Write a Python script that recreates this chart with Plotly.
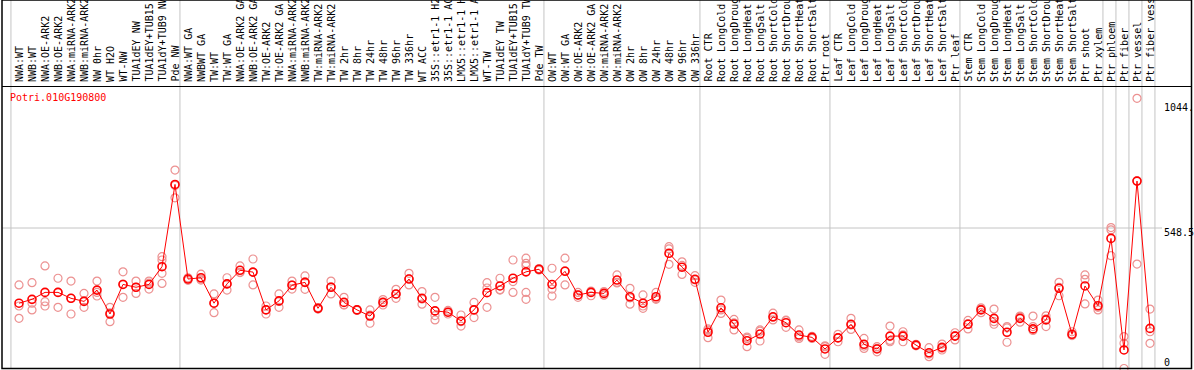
import plotly.graph_objects as go

# ---------------- data ----------------
title_text = "Potri.010G190800"

categories = [
    "NWA:WT", "NWB:WT", "NWA:OE-ARK2", "NWB:OE-ARK2", "NWA:miRNA-ARK2", "NWB:miRNA-ARK2",
    "NW 0hr", "WT H2O", "WT-NW", "TUA1dEY NW", "TUA1dEY+TUB15 NW", "TUA1dY+TUB9 NW", "Pde NW",
    "NWA:WT GA", "NWBWT GA", "TW:WT", "TW:WT GA", "NWA:OE-ARK2 GA", "NWB:OE-ARK2 GA",
    "TW:OE-ARK2", "TW:OE-ARK2 GA", "NWA:miRNA-ARK2 GA", "NWB:miRNA-ARK2 GA", "TW:miRNA-ARK2",
    "TW:miRNA-ARK2 GA", "TW 2hr", "TW 8hr", "TW 24hr", "TW 48hr", "TW 96hr", "TW 336hr", "WT ACC",
    "35S::etr1-1 H2O", "35S::etr1-1 ACC", "LMX5::etr1-1 H2O", "LMX5::etr1-1 ACC", "WT-TW",
    "TUA1dEY TW", "TUA1dEY+TUB15 TW", "TUA1dY+TUB9 TW", "Pde TW",
    "OW:WT", "OW:WT GA", "OW:OE-ARK2", "OW:OE-ARK2 GA", "OW:miRNA-ARK2", "OW:miRNA-ARK2 GA",
    "OW 2hr", "OW 8hr", "OW 24hr", "OW 48hr", "OW 96hr", "OW 336hr",
    "Root CTR", "Root LongCold", "Root LongDrought", "Root LongHeat", "Root LongSalt",
    "Root ShortCold", "Root ShortDrought", "Root ShortHeat", "Root ShortSalt", "Ptr root",
    "Leaf CTR", "Leaf LongCold", "Leaf LongDrought", "Leaf LongHeat", "Leaf LongSalt",
    "Leaf ShortCold", "Leaf ShortDrought", "Leaf ShortHeat", "Leaf ShortSalt", "Ptr leaf",
    "Stem CTR", "Stem LongCold", "Stem LongDrought", "Stem LongHeat", "Stem LongSalt",
    "Stem ShortCold", "Stem ShortDrought", "Stem ShortHeat", "Stem ShortSalt", "Ptr shoot", "Ptr xylem",
    "Ptr phloem", "Ptr fiber", "Ptr vessel", "Ptr fiber vessel",
]

group_sizes = [13, 28, 12, 10, 10, 11, 1, 1, 1, 1]

means = [
    256, 271, 298, 298, 275, 263, 307, 214, 329, 318, 329, 398, 718,
    350, 355, 256, 331, 384, 377, 230, 265, 326, 337, 236, 318, 259, 230, 206, 259, 292,
    350, 275, 226, 221, 187, 230, 297, 323, 353, 378, 388,
    329, 380, 288, 298, 294, 346, 281, 256, 281, 450, 396, 349,
    143, 238, 175, 110, 136, 203, 180, 132, 123, 78,
    121, 174, 96, 78, 128, 128, 93, 63, 84, 128,
    174, 230, 197, 143, 197, 156, 191, 314, 135, 323, 246,
    508, 74, 731, 158,
]

replicates = [
    [327, 245, 197], [336, 256, 230], [401, 262, 245], [353, 298, 240], [342, 275, 214],
    [294, 265, 240], [342, 298, 284], [240, 218, 184], [378, 330, 279], [342, 318, 294],
    [342, 334, 311], [437, 424, 372, 333], [774, 714, 666],
    [355, 350, 345], [369, 350, 346], [292, 256, 219], [355, 331, 307], [401, 376, 375],
    [428, 376, 327], [245, 231, 214], [292, 263, 240], [342, 326, 311], [362, 339, 310],
    [239, 236, 233], [342, 320, 292], [279, 250, 249], [231, 230, 228], [230, 210, 178],
    [270, 259, 249], [310, 291, 275], [372, 351, 327], [301, 272, 252], [279, 208, 191],
    [228, 221, 214], [210, 184, 167], [259, 231, 200], [336, 315, 240], [353, 309, 307],
    [424, 340, 298], [431, 411, 402, 298, 271], [391, 388, 385],
    [392, 311, 284], [431, 382, 327], [298, 287, 279], [303, 298, 285], [301, 294, 287],
    [366, 337, 335], [314, 277, 252], [288, 245, 236], [298, 274, 271], [476, 467, 407],
    [417, 403, 368], [363, 347, 337],
    [156, 151, 122], [268, 230, 216], [193, 180, 152], [124, 119, 87], [152, 147, 109],
    [217, 201, 191], [190, 188, 162], [152, 125, 119], [127, 123, 119], [90, 87, 57],
    [135, 122, 106], [197, 171, 154], [119, 89, 80], [87, 80, 67], [167, 111, 106],
    [145, 133, 106], [96, 93, 90], [83, 58, 48], [97, 81, 74], [141, 130, 113],
    [189, 177, 156], [238, 233, 219], [233, 184, 174], [165, 160, 104], [206, 203, 182],
    [206, 165, 150], [207, 195, 165], [337, 318, 285], [145, 132, 130], [366, 349, 253],
    [268, 240, 230],
    [550, 541, 441], [126, 100, 2], [1053, 732, 408], [233, 145, 100],
]

tick_values = [0, 548.5, 1044]
tick_labels = ["0", "548.5", "1044."]

# ---------------- layout geometry ----------------
W, H = 1194, 370
ML, MR, MT, MB = 2, 2, 0, 1
PW = W - ML - MR          # 1190
PH = H - MT - MB          # 369
X0_PX, DX_PX = 19, 13     # pixel of first category, spacing
Y_SCALE = 141 / 548.5     # px per unit
x_range = [(ML - X0_PX) / DX_PX, (ML + PW - X0_PX) / DX_PX]
y_range = [0, PH / Y_SCALE]

def py(p):  # figure pixel y -> paper y
    return (MT + PH - p) / PH

def px(p):  # figure pixel x -> paper x
    return (p - ML) / PW

FONT = "DejaVu Sans Mono"
GRID = "#c4c4c4"

fig = go.Figure()

rx, ry = [], []
for i, reps in enumerate(replicates):
    for v in reps:
        rx.append(i)
        ry.append(v)

fig.add_trace(go.Scatter(
    x=rx, y=ry, mode="markers", cliponaxis=False, hoverinfo="skip",
    marker=dict(symbol="circle-open", size=8, color="rgb(236,145,145)", line=dict(width=1.2)),
))
fig.add_trace(go.Scatter(
    x=list(range(len(means))), y=means, mode="lines+markers", cliponaxis=False,
    line=dict(color="#ff0000", width=1),
    marker=dict(symbol="circle-open", size=8, color="#ff0000", line=dict(width=1.6)),
))

shapes = []
# group separators
start = 0
bounds = [0]
for g in group_sizes:
    start += g
    bounds.append(start)
for b in bounds:
    shapes.append(dict(type="line", xref="x", yref="paper", x0=b - 0.62, x1=b - 0.62,
                       y0=0, y1=1, line=dict(color=GRID, width=1), layer="below"))
# mid grid line
shapes.append(dict(type="line", xref="paper", yref="y", x0=0, x1=px(1162),
                   y0=tick_values[1], y1=tick_values[1], line=dict(color=GRID, width=1), layer="below"))
# label box bottom line
shapes.append(dict(type="line", xref="paper", yref="paper", x0=0, x1=1,
                   y0=py(86.5), y1=py(86.5), line=dict(color="black", width=1)))
# outer border
shapes.append(dict(type="rect", xref="paper", yref="paper", x0=0, x1=px(1191.5),
                   y0=py(368.5), y1=1, line=dict(color="black", width=1.5)))

annotations = []
for i, lab in enumerate(categories):
    annotations.append(dict(x=i, y=py(84), xref="x", yref="paper", text=lab, textangle=-90,
                            xanchor="center", yanchor="bottom", showarrow=False,
                            font=dict(family=FONT, size=10, color="black")))
annotations.append(dict(x=px(8), y=py(97), xref="paper", yref="paper", text=title_text,
                        xanchor="left", yanchor="middle", showarrow=False,
                        font=dict(family=FONT, size=10, color="#ff0000")))
tick_py = [362, 232, 107]
for lab, p in zip(tick_labels, tick_py):
    annotations.append(dict(x=px(1162), y=py(p), xref="paper", yref="paper", text=lab,
                            xanchor="left", yanchor="middle", showarrow=False,
                            font=dict(family=FONT, size=10, color="black")))

fig.update_layout(
    width=W, height=H,
    margin=dict(l=ML, r=MR, t=MT, b=MB, pad=0),
    paper_bgcolor="white", plot_bgcolor="white",
    showlegend=False,
    xaxis=dict(range=x_range, visible=False, fixedrange=True),
    yaxis=dict(range=y_range, visible=False, fixedrange=True),
    shapes=shapes, annotations=annotations,
)

fig.write_html(
    "out.html",
    config={"displayModeBar": False},
    post_script="document.body.style.margin='0';document.body.style.padding='0';",
)
